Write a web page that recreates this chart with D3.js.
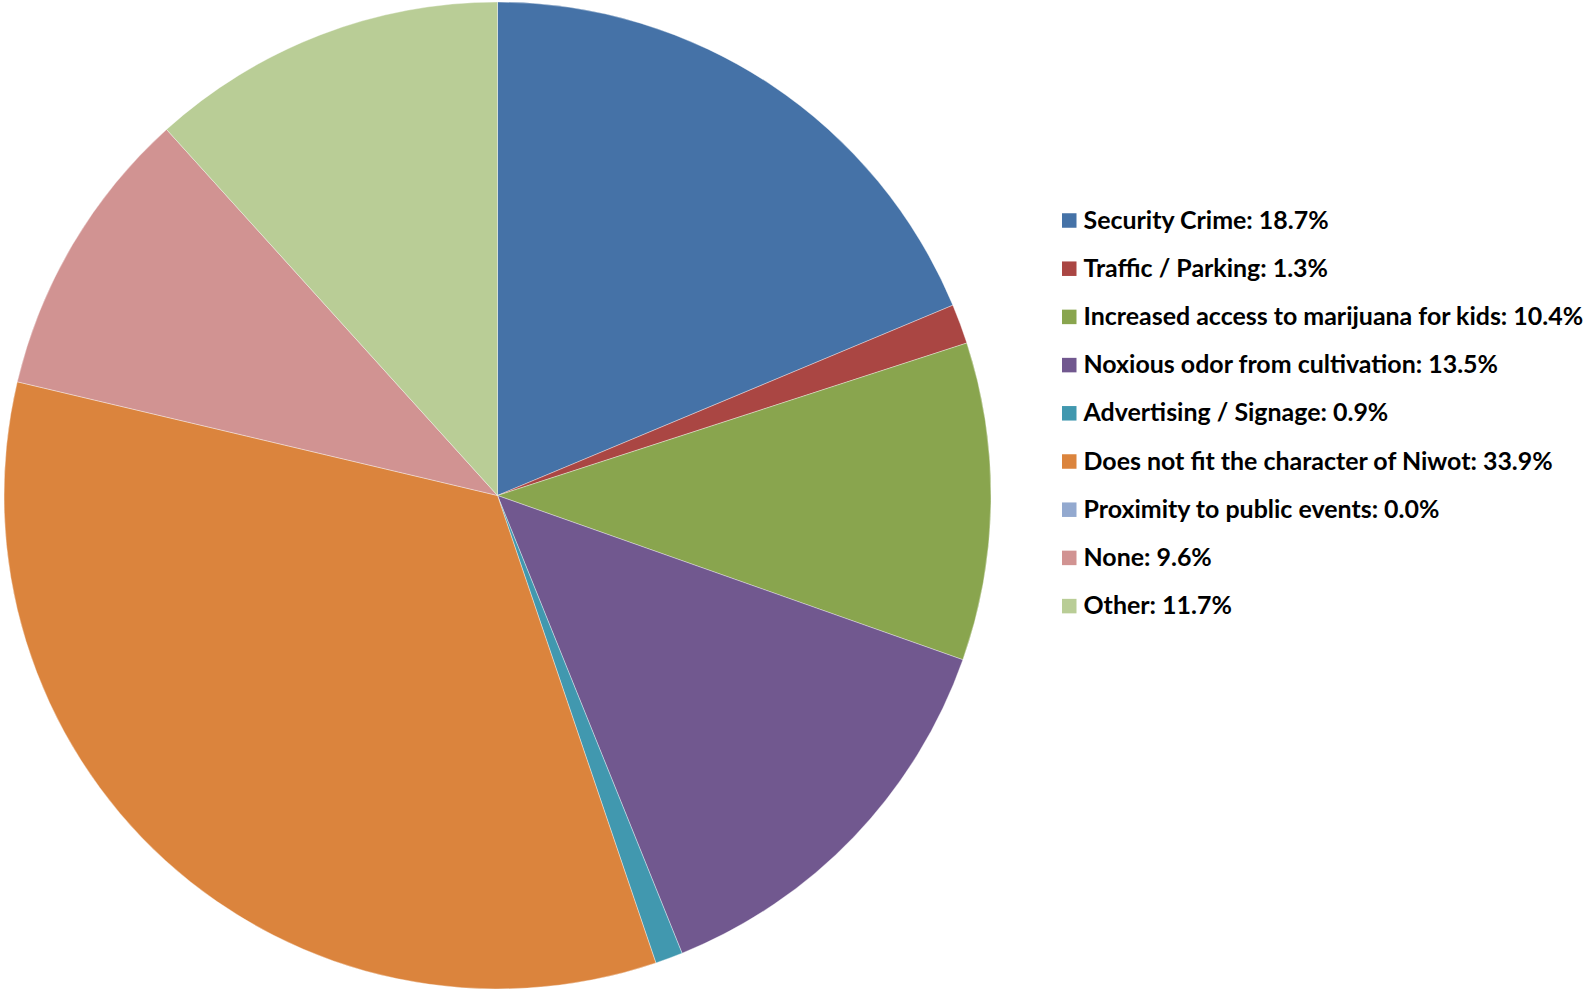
<!DOCTYPE html>
<html>
<head>
<meta charset="utf-8">
<script src="https://cdn.jsdelivr.net/npm/d3@7"></script>
<style>
  html, body { margin: 0; padding: 0; background: #fff; overflow: hidden; }
  svg { display: block; }
</style>
</head>
<body>
<svg id="chart" width="1585" height="993"></svg>
<script>
const categories = [
  "Security Crime",
  "Traffic / Parking",
  "Increased access to marijuana for kids",
  "Noxious odor from cultivation",
  "Advertising / Signage",
  "Does not fit the character of Niwot",
  "Proximity to public events",
  "None",
  "Other"
];
const values = [18.7, 1.3, 10.4, 13.5, 0.9, 33.9, 0.0, 9.6, 11.7];
const colors = ["#4572A7", "#AA4643", "#89A54E", "#71588F", "#4198AF", "#DB843D", "#93A9CF", "#D19392", "#B9CD96"];

const data = categories.map((c, i) => ({ name: c, value: values[i], color: colors[i] }));

const svg = d3.select("#chart");
const cx = 497.5, cy = 495.5, r = 493.5;

const pie = d3.pie().sort(null).value(d => d.value).startAngle(0).endAngle(2 * Math.PI);
const arc = d3.arc().innerRadius(0).outerRadius(r);

const g = svg.append("g").attr("transform", `translate(${cx},${cy})`);
g.selectAll("path")
  .data(pie(data).filter(d => d.data.value > 0))
  .join("path")
  .attr("d", arc)
  .attr("fill", d => d.data.color)
  .attr("stroke", "#ffffff")
  .attr("stroke-width", 0.6)
  .attr("stroke-opacity", 0.6);

// Legend
const legendX = 1062, legendY0 = 220.5, rowH = 48.2, sw = 14.5;
const legend = svg.append("g");
const rows = legend.selectAll("g.row")
  .data(data)
  .join("g")
  .attr("class", "row")
  .attr("transform", (d, i) => `translate(${legendX},${legendY0 + i * rowH})`);

rows.append("rect")
  .attr("x", 0)
  .attr("y", -sw / 2)
  .attr("width", sw)
  .attr("height", sw)
  .attr("fill", d => d.color);

const texts = rows.append("text")
  .attr("x", 21.5)
  .attr("y", 8)
  .attr("font-family", "Lato, 'Open Sans', sans-serif")
  .attr("font-weight", "bold")
  .attr("font-size", 22)
  .attr("fill", "#000")
  .text(d => `${d.name}: ${d.value.toFixed(1)}%`);

// fit font size so the longest label matches the reference width
let maxW = 0;
texts.each(function () { maxW = Math.max(maxW, this.getComputedTextLength()); });
const fs = 22 * 500 / maxW;
texts.attr("font-size", fs);
</script>
</body>
</html>
